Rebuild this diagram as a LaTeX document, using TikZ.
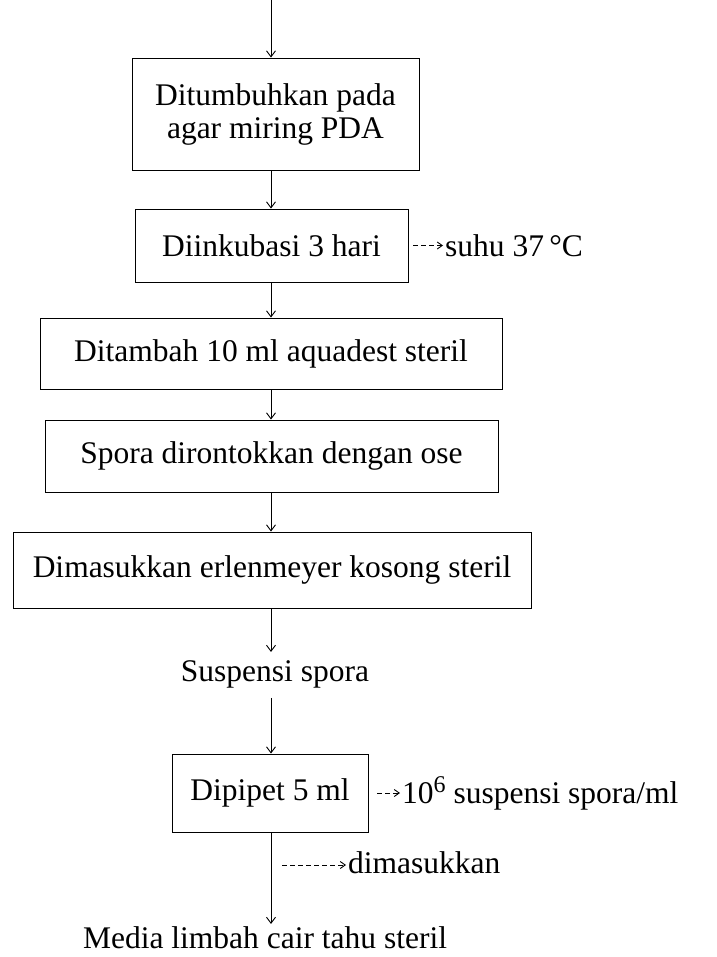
\documentclass[tikz,border=0pt]{standalone}
\usepackage{fontspec}
\setmainfont{Liberation Serif}
\usetikzlibrary{arrows.meta}
\begin{document}
\begin{tikzpicture}[x=1pt,y=-1pt,
  font=\fontsize{31.5}{33}\selectfont,
  boxnode/.style={draw, line width=0.9pt, inner sep=0pt, align=center},
  lbl/.style={inner sep=0pt},
  flow/.style={line width=0.9pt, -{Straight Barb[length=6pt,width=9pt]}},
  dflow/.style={line width=0.9pt, dash pattern=on 5pt off 3pt, -{Straight Barb[length=5pt,width=7pt]}}]
\useasboundingbox (0,0) rectangle (716,957);
\coordinate (top) at (271,0);
\node[boxnode, minimum width=287pt, minimum height=112pt] (b1) at (275.5,114) {Ditumbuhkan pada\\agar miring PDA};
\node[boxnode, minimum width=273pt, minimum height=73pt] (b2) at (271.5,245.5) {Diinkubasi 3 hari};
\node[boxnode, minimum width=462pt, minimum height=71pt] (b3) at (271,353.5) {Ditambah 10 ml aquadest steril};
\node[boxnode, minimum width=453pt, minimum height=72pt] (b4) at (271.5,456) {Spora dirontokkan dengan ose};
\node[boxnode, minimum width=518pt, minimum height=76pt] (b5) at (272,570) {Dimasukkan erlenmeyer kosong steril};
\node[lbl, anchor=base] (susp) at (275,681) {Suspensi spora};
\node[boxnode, minimum width=196pt, minimum height=78pt] (b6) at (270,793) {Dipipet 5 ml};
\node[lbl, anchor=base] (media) at (265,948) {Media limbah cair tahu steril};
\node[lbl, anchor=west] (suhu) at (445,245.5) {suhu 37\,°C};
\node[lbl, anchor=base west] (konc) at (402,803) {10\raisebox{11pt}{\fontsize{24}{24}\selectfont 6} suspensi spora/ml};
\node[lbl, anchor=base west] (dim) at (348,873) {dimasukkan};
\coordinate (dstart) at (282,865);
% flow arrows
\draw[flow] (top) -- (b1.north -| top);
\draw[flow] (b1.south -| top) -- (b2.north -| top);
\draw[flow] (b2.south -| top) -- (b3.north -| top);
\draw[flow] (b3.south -| top) -- (b4.north -| top);
\draw[flow] (b4.south -| top) -- (b5.north -| top);
\draw[flow, shorten >=8pt] (b5.south -| top) -- (susp.north -| top);
\draw[flow] ([yshift=-10pt]susp.south -| top) -- (b6.north -| top);
\draw[flow, shorten >=2pt] (b6.south -| top) -- (media.north -| top);
% side arrows
\draw[dflow, shorten >=2pt] ([xshift=5pt]b2.east) -- (b2.east -| suhu.west);
\draw[dflow, shorten >=2pt] ([xshift=9pt]b6.east) -- (b6.east -| konc.west);
\draw[dflow, shorten >=2pt] (dstart) -- (dstart -| dim.west);
\end{tikzpicture}
\end{document}
